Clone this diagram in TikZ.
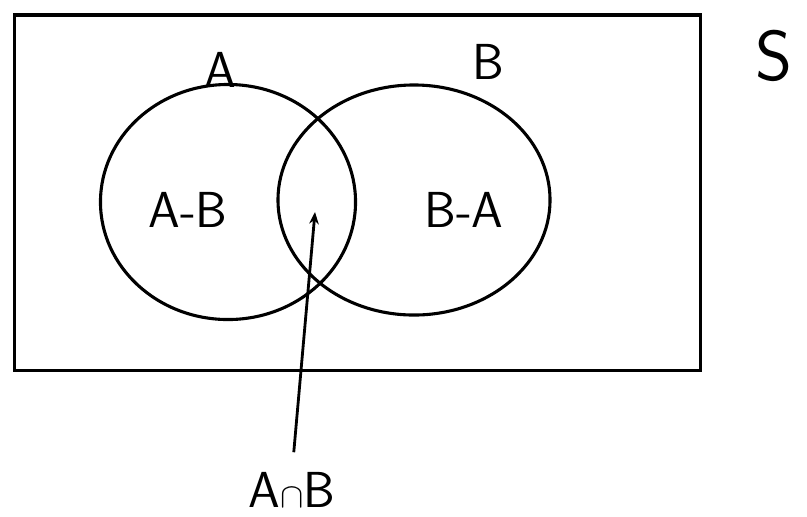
\documentclass[tikz,border=0pt]{standalone}
\usepackage{amsmath,amssymb}
\usepackage{tikz}
\usetikzlibrary{arrows.meta,positioning,shapes.geometric}
\tikzset{
  setring/.style={ellipse,draw=black,line width=2.2pt,inner sep=0pt},
  frame/.style={rectangle,draw=black,line width=2.2pt,inner sep=0pt},
  lbl/.style={font=\fontsize{36}{42}\selectfont\sffamily,inner sep=0pt},
  ptr/.style={-{Stealth[length=3mm,width=2.4mm]},line width=2pt},
}
\begin{document}
\begin{tikzpicture}[x=0.025cm,y=-0.025cm]
  \useasboundingbox (0,0) rectangle (807,516);
  \node[frame,minimum width=17.125cm,minimum height=8.875cm] (universe) at (357.5,192.5) {};
  \node[setring,minimum width=6.375cm,minimum height=5.875cm] (setA) at (228,202) {};
  \node[setring,minimum width=6.8cm,minimum height=5.75cm] (setB) at (414,200) {};

  \node[lbl] (nameA) at (220,70) {A};
  \node[lbl] (nameB) at (488,62) {B};
  \node[lbl,scale=1.4] (nameS) at (774,56) {S};
  \node[lbl] (onlyA) at (188,210) {A-B};
  \node[lbl] (onlyB) at (464,210) {B-A};
  \node[lbl] (inter) at (292,490) {A$\cap$B};

  \coordinate (mid) at (315,212);
  \draw[ptr,shorten <=0.5cm] (inter.north) -- (mid);
\end{tikzpicture}
\end{document}
